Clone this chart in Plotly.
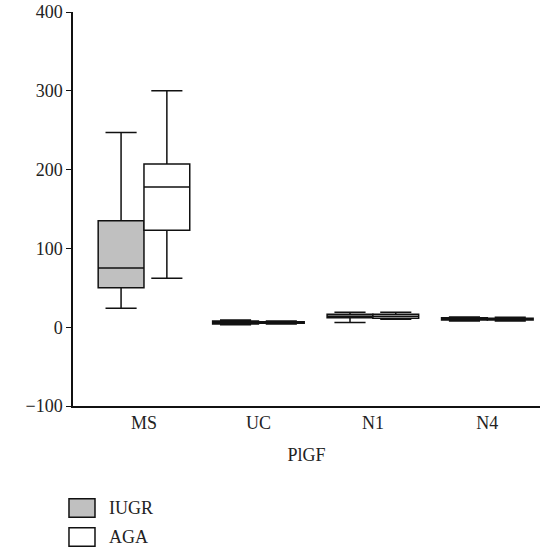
import plotly.graph_objects as go

categories = ["MS", "UC", "N1", "N4"]
series_names = ["IUGR", "AGA"]
series_fill = ["#c0c0c0", "#ffffff"]

iugr_lower = [24, 3, 6, 8]
iugr_q1 = [50, 4, 12, 9]
iugr_median = [75, 6, 14, 10.5]
iugr_q3 = [135, 8, 16.5, 12]
iugr_upper = [247, 9, 19, 13]

aga_lower = [62, 4, 10, 8]
aga_q1 = [123, 5, 11.5, 9]
aga_median = [178, 6, 14, 10]
aga_q3 = [207, 7, 16.5, 11.5]
aga_upper = [300, 8, 19, 12.5]

font = dict(family="Liberation Serif, Times New Roman, serif", size=18, color="#222222")

fig = go.Figure()
fig.add_trace(go.Box(
    name=series_names[0], x=categories, q1=iugr_q1, median=iugr_median, q3=iugr_q3,
    lowerfence=iugr_lower, upperfence=iugr_upper,
    fillcolor=series_fill[0], line=dict(color="#111111", width=1.5),
    whiskerwidth=0.68, boxpoints=False,
))
fig.add_trace(go.Box(
    name=series_names[1], x=categories, q1=aga_q1, median=aga_median, q3=aga_q3,
    lowerfence=aga_lower, upperfence=aga_upper,
    fillcolor=series_fill[1], line=dict(color="#111111", width=1.5),
    whiskerwidth=0.68, boxpoints=False,
))

# Manual legend (paper coordinates, below the plot)
legend_rows_y = [-0.2589, -0.3325]
for name, fill, yc in zip(series_names, series_fill, legend_rows_y):
    fig.add_shape(type="rect", xref="paper", yref="paper",
                  x0=-0.0086, x1=0.0471, y0=yc - 0.0235, y1=yc + 0.0235,
                  fillcolor=fill, line=dict(color="#111111", width=1.5))
    fig.add_annotation(xref="paper", yref="paper", x=0.0728, y=yc,
                       text=name, showarrow=False, xanchor="left", yanchor="middle",
                       font=font)

fig.update_layout(
    width=553, height=552,
    margin=dict(l=73, r=13, t=12, b=146, autoexpand=False),
    plot_bgcolor="white", paper_bgcolor="white",
    font=font,
    boxmode="group", boxgap=0.2, boxgroupgap=0.0,
    showlegend=False,
    xaxis=dict(
        type="category", range=[-0.62, 3.46],
        showline=True, linecolor="#111111", linewidth=1.5,
        ticks="", showgrid=False, zeroline=False,
        ticklabelstandoff=0,
        title=dict(text="PlGF", font=font, standoff=16),
    ),
    yaxis=dict(
        range=[-100, 400], tickvals=[-100, 0, 100, 200, 300, 400],
        showline=True, linecolor="#111111", linewidth=1.5,
        ticks="outside", ticklen=5, tickcolor="#111111",
        showgrid=False, zeroline=False,
    ),
)

fig.write_html(
    "out.html",
    config={"displayModeBar": False},
    post_script="document.body.style.margin='0';document.body.style.overflow='hidden';",
)
